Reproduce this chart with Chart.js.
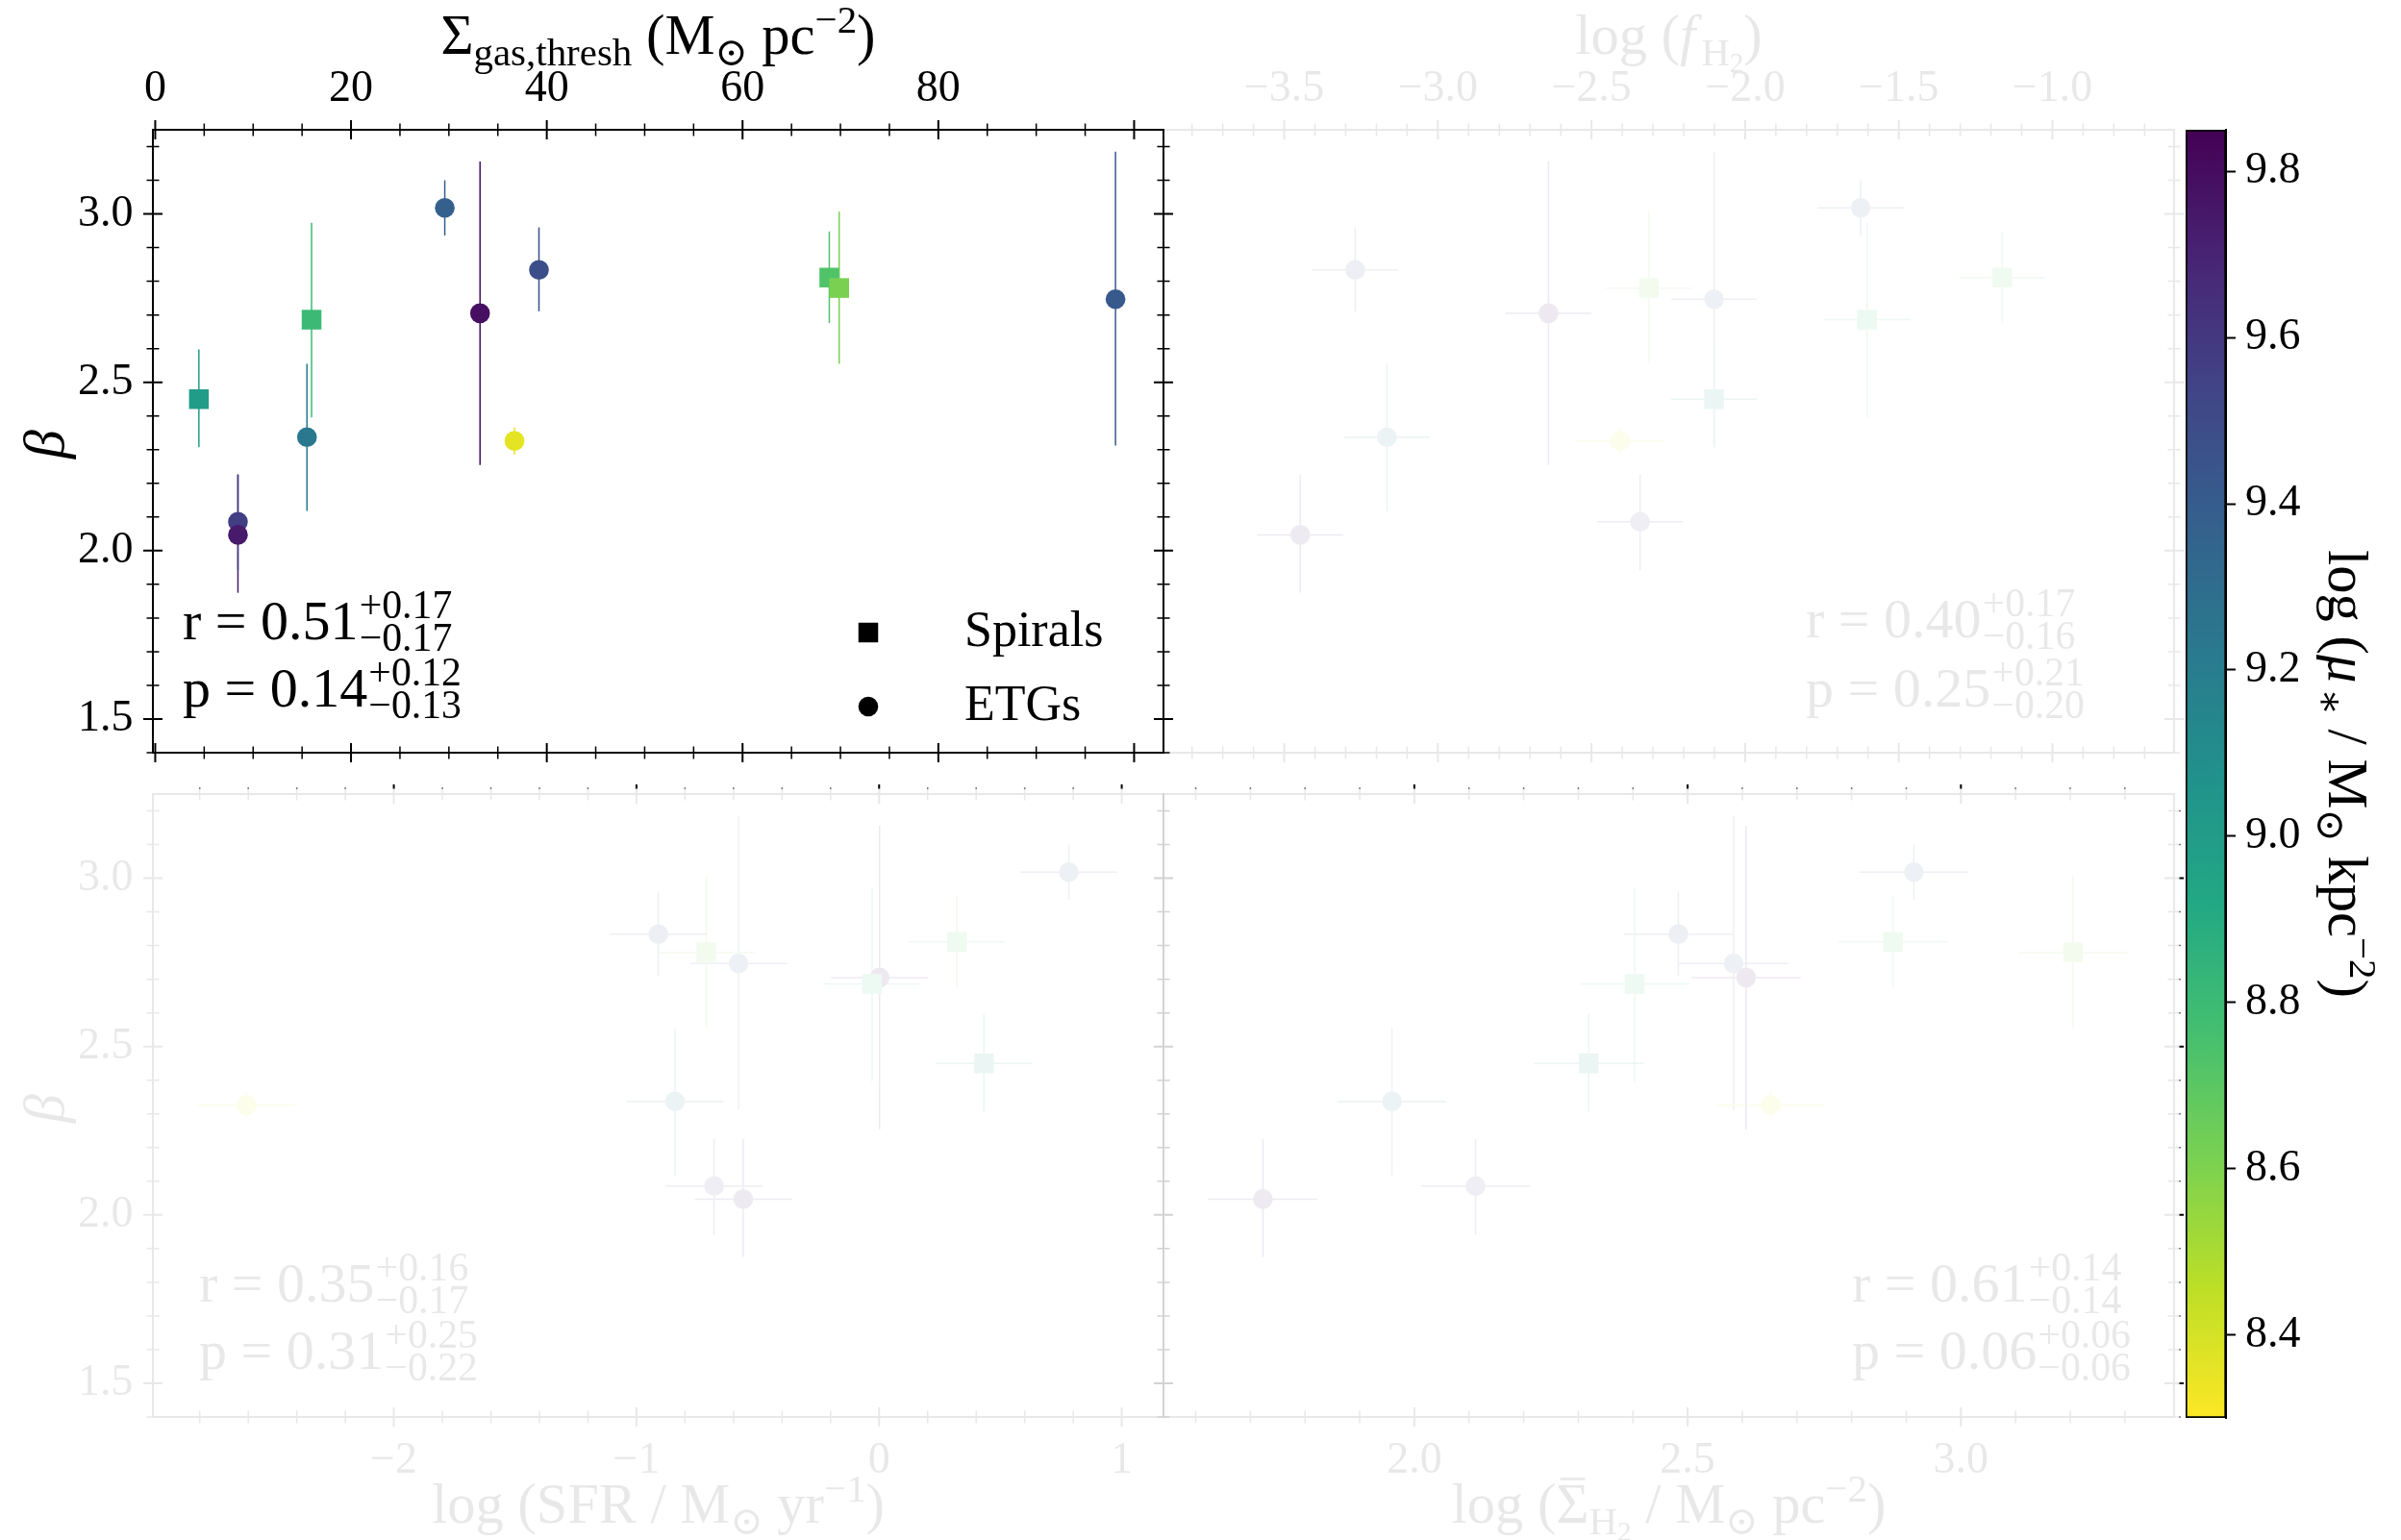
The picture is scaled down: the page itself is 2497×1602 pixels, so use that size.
<!DOCTYPE html>
<html>
<head>
<meta charset="utf-8">
<script src="https://cdn.jsdelivr.net/npm/chart.js@4.4.1/dist/chart.umd.min.js"></script>
<style>
  html, body { margin: 0; padding: 0; background: #ffffff; }
  #wrap { position: relative; width: 2497px; height: 1602px; overflow: hidden; background: #ffffff; }
  #wrap canvas { position: absolute; left: 0; top: 0; }
</style>
</head>
<body>
<div id="wrap">
  <canvas id="cBL" width="2497" height="1602"></canvas>
  <canvas id="cBR" width="2497" height="1602"></canvas>
  <canvas id="cTR" width="2497" height="1602"></canvas>
  <canvas id="cCB" width="2497" height="1602"></canvas>
  <canvas id="cTL" width="2497" height="1602"></canvas>
</div>
<script>
// ------------------------------------------------------------------ data
// one entry per galaxy (12 galaxies)
const galaxyType     = ['spiral','etg','etg','etg','spiral','etg','etg','etg','etg','spiral','spiral','etg'];
const beta           = [2.450, 2.086, 2.047, 2.337, 2.686, 3.018, 2.705, 2.326, 2.834, 2.811, 2.780, 2.747];
const betaErrUp      = [0.148, 0.141, 0.178, 0.218, 0.288, 0.082, 0.451, 0.040, 0.126, 0.137, 0.227, 0.438];
const betaErrDown    = [0.143, 0.144, 0.172, 0.219, 0.290, 0.082, 0.451, 0.040, 0.123, 0.135, 0.225, 0.435];
const logMuStar      = [9.00, 9.57, 9.74, 9.23, 8.80, 9.38, 9.79, 8.36, 9.48, 8.73, 8.61, 9.42];
const sigmaGasThresh = [4.46, 8.45, 8.45, 15.50, 15.97, 29.58, 33.18, 36.70, 39.20, 68.86, 69.87, 98.10];
const logFH2         = [-2.101, -2.342, -3.448, -3.166, -1.603, -1.624, -2.640, -2.407, -3.269, -1.163, -2.313, -2.101];
const logFH2Err      = [0.14, 0.14, 0.14, 0.14, 0.14, 0.14, 0.14, 0.14, 0.14, 0.14, 0.14, 0.14];
const logSFR         = [0.432, -0.680, -0.560, -0.841, -0.029, 0.782, 0.002, -2.607, -0.910, 0.321, -0.712, -0.579];
const logSFRErr      = [0.20, 0.20, 0.20, 0.20, 0.20, 0.20, 0.20, 0.20, 0.20, 0.20, 0.20, 0.20];
const logSigmaH2     = [2.319, 2.112, 1.723, 1.959, 2.403, 2.914, 2.607, 2.652, 2.483, 2.876, 3.205, 2.584];
const logSigmaH2Err  = [0.10, 0.10, 0.10, 0.10, 0.10, 0.10, 0.10, 0.10, 0.10, 0.10, 0.10, 0.10];

// correlation statistics per panel: [TL, TR, BL, BR]
const corrR      = ['0.51', '0.40', '0.35', '0.61'];
const corrRUp    = ['+0.17', '+0.17', '+0.16', '+0.14'];
const corrRDown  = ['\u22120.17', '\u22120.16', '\u22120.17', '\u22120.14'];
const corrP      = ['0.14', '0.25', '0.31', '0.06'];
const corrPUp    = ['+0.12', '+0.21', '+0.25', '+0.06'];
const corrPDown  = ['\u22120.13', '\u22120.20', '\u22120.22', '\u22120.06'];

// axis ranges and ticks
const betaRange      = [1.40, 3.25];
const betaTicks      = [1.5, 2.0, 2.5, 3.0];
const betaTickLabels = ['1.5', '2.0', '2.5', '3.0'];

const sgtRange      = [-0.24, 103.0];
const sgtTicks      = [0, 20, 40, 60, 80, 100];
const sgtTickLabels = ['0', '20', '40', '60', '80', ''];

const fh2Range      = [-3.893, -0.604];
const fh2Ticks      = [-3.5, -3.0, -2.5, -2.0, -1.5, -1.0];
const fh2TickLabels = ['\u22123.5', '\u22123.0', '\u22122.5', '\u22122.0', '\u22121.5', '\u22121.0'];

const sfrRange      = [-2.993, 1.172];
const sfrTicks      = [-2, -1, 0, 1];
const sfrTickLabels = ['\u22122', '\u22121', '0', '1'];

const sh2Range      = [1.541, 3.390];
const sh2Ticks      = [2.0, 2.5, 3.0];
const sh2TickLabels = ['2.0', '2.5', '3.0'];

const cbRange      = [8.30, 9.85];
const cbTicks      = [8.4, 8.6, 8.8, 9.0, 9.2, 9.4, 9.6, 9.8];
const cbTickLabels = ['8.4', '8.6', '8.8', '9.0', '9.2', '9.4', '9.6', '9.8'];

const legendLabels = ['Spirals', 'ETGs'];

// ------------------------------------------------------------------ style / layout
const W = 2497, H = 1602;
const FONT = '"Liberation Serif", "Times New Roman", "DejaVu Serif", serif';
const TICK_SIZE = 46, TITLE_SIZE = 58.5, LEGEND_SIZE = 52, ANNOT_SIZE = 58;
const LABEL_BOX = 120;   // room reserved for tick labels of a labelled axis
const FADE = 0.91;
const AREA = {
  TL: {l: 159,  t: 135, r: 1210, b: 783},
  TR: {l: 1210, t: 135, r: 2261, b: 783},
  BL: {l: 159,  t: 826, r: 1210, b: 1474},
  BR: {l: 1210, t: 826, r: 2261, b: 1474},
  CB: {l: 2273, t: 135, r: 2315, b: 1475}
};
const VIRIDIS = ['#440154','#482475','#414487','#355f8d','#2a788e','#21918c','#22a884','#44bf70','#7ad151','#bddf26','#fde725'];

function hexToRgb(h) { return [parseInt(h.substr(1,2),16), parseInt(h.substr(3,2),16), parseInt(h.substr(5,2),16)]; }
function viridis(t) {
  t = Math.max(0, Math.min(1, t));
  const n = VIRIDIS.length - 1, f = t * n, i = Math.min(n - 1, Math.floor(f)), u = f - i;
  const a = hexToRgb(VIRIDIS[i]), b = hexToRgb(VIRIDIS[i + 1]);
  return 'rgb(' + a.map((c, k) => Math.round(c + (b[k] - c) * u)).join(',') + ')';
}
function cbColor(v) { return viridis((cbRange[1] - v) / (cbRange[1] - cbRange[0])); }
const pointColors = logMuStar.map(cbColor);

function fnt(size, italic) { return (italic ? 'italic ' : '') + size.toFixed(2) + 'px ' + FONT; }

// ------------------------------------------------------------------ rich text (sub/superscripts)
const LEVELS = {base: {k: 1, dy: 0}, sub: {k: 0.7, dy: 0.2}, sub2: {k: 0.5, dy: 0.33}, sup: {k: 0.7, dy: -0.37}};
function drawRich(ctx, segs, size, x, y, opt) {
  opt = opt || {};
  const parts = []; let w = 0;
  for (const s of segs) {
    if (s.stack) {
      const f = size * 0.72;
      ctx.font = fnt(f, false);
      const w1 = ctx.measureText(s.stack[0]).width, w2 = ctx.measureText(s.stack[1]).width;
      parts.push({stack: s.stack, x: w + size * 0.02, f});
      w += Math.max(w1, w2) + size * 0.02;
    } else {
      const lv = LEVELS[s.lvl || 'base'];
      const f = size * lv.k;
      ctx.font = fnt(f, s.it);
      const tw = ctx.measureText(s.t).width;
      parts.push({t: s.t, x: w, f, it: s.it, dy: lv.dy * size, bar: s.bar, tw});
      w += tw + (s.it ? f * 0.1 : 0);
    }
  }
  ctx.save();
  ctx.translate(x, y);
  if (opt.rot) ctx.rotate(opt.rot);
  const x0 = opt.align === 'center' ? -w / 2 : (opt.align === 'right' ? -w : 0);
  ctx.fillStyle = opt.color || '#000';
  ctx.textAlign = 'left';
  ctx.textBaseline = opt.baseline || 'alphabetic';
  for (const p of parts) {
    if (p.stack) {
      ctx.font = fnt(p.f, false);
      ctx.fillText(p.stack[0], x0 + p.x, -0.385 * size);
      ctx.fillText(p.stack[1], x0 + p.x, 0.21 * size);
    } else {
      ctx.font = fnt(p.f, p.it);
      ctx.fillText(p.t, x0 + p.x, p.dy);
      if (p.bar) ctx.fillRect(x0 + p.x + p.tw * 0.12, p.dy - 0.8 * p.f, p.tw * 0.76, Math.max(1.5, 0.045 * p.f));
    }
  }
  ctx.restore();
}

// ------------------------------------------------------------------ plugins
function makeTicksPlugin(specs) {
  return {
    id: 'inoutTicks',
    afterDraw(chart) {
      const {ctx, chartArea: a} = chart;
      ctx.save();
      ctx.strokeStyle = '#000';
      ctx.lineCap = 'butt';
      for (const sp of specs) {
        const s = chart.scales[sp.scale];
        const majors = s.ticks.map(t => t.value);
        const marks = majors.map(v => ({v, major: true}));
        const k0 = Math.ceil(s.min / sp.minor - 1e-6), k1 = Math.floor(s.max / sp.minor + 1e-6);
        for (let k = k0; k <= k1; k++) {
          const v = k * sp.minor;
          if (!majors.some(m => Math.abs(m - v) < sp.minor * 0.01)) marks.push({v, major: false});
        }
        for (const m of marks) {
          const p = s.getPixelForValue(m.v);
          const L = m.major ? 10 : 6.5;
          ctx.lineWidth = m.major ? 2 : 1.5;
          ctx.beginPath();
          for (const side of sp.sides) {
            if (side === 'top')    { ctx.moveTo(p, a.top - L);    ctx.lineTo(p, a.top + L); }
            if (side === 'bottom') { ctx.moveTo(p, a.bottom - L); ctx.lineTo(p, a.bottom + L); }
            if (side === 'left')   { ctx.moveTo(a.left - L, p);   ctx.lineTo(a.left + L, p); }
            if (side === 'right')  { ctx.moveTo(a.right - L, p);  ctx.lineTo(a.right + L, p); }
          }
          ctx.stroke();
        }
      }
      ctx.restore();
    }
  };
}

function makeTextPlugin(itemsFn) {
  return {
    id: 'richText',
    afterDraw(chart) {
      const ctx = chart.ctx, a = chart.chartArea;
      for (const it of itemsFn(a)) {
        if (it.marker) {
          ctx.save();
          ctx.fillStyle = '#000';
          Chart.helpers.drawPoint(ctx, {pointStyle: it.marker, radius: it.radius, rotation: 0, borderWidth: 0}, it.x, it.y);
          ctx.restore();
        } else {
          drawRich(ctx, it.segs, it.size, it.x, it.y, it);
        }
      }
    }
  };
}

function makeFadePlugin(rectFn) {
  return {
    id: 'fade',
    afterDraw(chart) {
      const ctx = chart.ctx, r = rectFn(chart.chartArea);
      ctx.save();
      ctx.globalCompositeOperation = 'destination-out';
      ctx.fillStyle = 'rgba(0,0,0,' + FADE + ')';
      ctx.fillRect(r.x0, r.y0, r.x1 - r.x0, r.y1 - r.y0);
      ctx.restore();
    }
  };
}

// ------------------------------------------------------------------ panel builder
function baseAxis(axis, position, range, size) {
  return {
    type: 'linear', axis, position, min: range[0], max: range[1],
    afterFit: s => { if (s.isHorizontal()) s.height = size; else s.width = size; },
    grid: {display: false, drawTicks: false},
    border: {display: true, color: '#000', width: 2},
    ticks: {display: false}
  };
}
function labelledTicks(padding, labels) {
  return {
    display: true, autoSkip: false, maxRotation: 0, minRotation: 0, padding, color: '#000',
    font: {family: FONT, size: TICK_SIZE, lineHeight: 1},
    callback: (v, i) => labels[i]
  };
}

function makePanel(canvasId, cfg) {
  const A = AREA[cfg.area];
  const datasets = [];
  const idx = type => galaxyType.map((g, i) => g === type ? i : -1).filter(i => i >= 0);
  const sp = idx('spiral'), et = idx('etg');
  datasets.push({
    type: 'scatter', label: legendLabels[0], order: 0,
    data: sp.map(i => ({x: cfg.xVals[i], y: beta[i]})),
    pointStyle: 'rect', pointRadius: 14.5, pointHoverRadius: 14.5,
    pointBackgroundColor: sp.map(i => pointColors[i]), pointBorderWidth: 0
  });
  datasets.push({
    type: 'scatter', label: legendLabels[1], order: 0,
    data: et.map(i => ({x: cfg.xVals[i], y: beta[i]})),
    pointStyle: 'circle', pointRadius: 10.3, pointHoverRadius: 10.3,
    pointBackgroundColor: et.map(i => pointColors[i]), pointBorderWidth: 0
  });
  const bar = (pts, col) => ({
    type: 'line', order: 1, data: pts, showLine: true, borderColor: col, borderWidth: 1.5,
    pointRadius: 0, pointHoverRadius: 0, tension: 0, fill: false, borderCapStyle: 'butt'
  });
  for (let i = 0; i < beta.length; i++) {
    datasets.push(bar([{x: cfg.xVals[i], y: beta[i] - betaErrDown[i]}, {x: cfg.xVals[i], y: beta[i] + betaErrUp[i]}], pointColors[i]));
    if (cfg.xErr) datasets.push(bar([{x: cfg.xVals[i] - cfg.xErr[i], y: beta[i]}, {x: cfg.xVals[i] + cfg.xErr[i], y: beta[i]}], pointColors[i]));
  }

  const xTop = cfg.xSide === 'top';
  const x = baseAxis('x', cfg.xSide, cfg.xRange, LABEL_BOX);
  x.afterBuildTicks = s => { s.ticks = cfg.xTicks.map(v => ({value: v})); };
  x.ticks = labelledTicks(xTop ? 19.5 : 23, cfg.xLabels);
  const x2 = baseAxis('x', xTop ? 'bottom' : 'top', cfg.xRange, 0);
  const yBox = cfg.yLabels ? LABEL_BOX : 0;
  const y = baseAxis('y', 'left', betaRange, yBox);
  y.afterBuildTicks = s => { s.ticks = betaTicks.map(v => ({value: v})); };
  if (cfg.yLabels) y.ticks = labelledTicks(20.5, betaTickLabels);
  const y2 = baseAxis('y', 'right', betaRange, 0);

  const pad = {
    left: A.l - yBox,
    right: W - A.r,
    top: A.t - (xTop ? LABEL_BOX : 0),
    bottom: H - A.b - (xTop ? 0 : LABEL_BOX)
  };

  const plugins = [
    makeTicksPlugin([{scale: 'x', sides: ['top', 'bottom'], minor: cfg.xMinor}, {scale: 'y', sides: ['left', 'right'], minor: 0.1}]),
    makeTextPlugin(cfg.texts)
  ];
  if (cfg.fade) plugins.push(makeFadePlugin(cfg.fade));

  return new Chart(document.getElementById(canvasId), {
    type: 'scatter',
    data: {datasets},
    options: {
      responsive: false, animation: false, devicePixelRatio: 1, events: [],
      layout: {autoPadding: false, padding: pad},
      plugins: {legend: {display: false}, tooltip: {enabled: false}},
      scales: {x, x2, y, y2}
    },
    plugins
  });
}

// ------------------------------------------------------------------ text content
const cx = a => (a.left + a.right) / 2, cy = a => (a.top + a.bottom) / 2;
const betaTitle = a => ({segs: [{t: '\u03B2', it: true}], size: 60, x: a.left - 93, y: cy(a), align: 'center', rot: -Math.PI / 2});
const statItems = (k, a, dx, dy1, dy2) => [
  {segs: [{t: 'r = ' + corrR[k]}, {stack: [corrRUp[k], corrRDown[k]]}], size: ANNOT_SIZE, x: a.left + dx, y: a.top + dy1},
  {segs: [{t: 'p = ' + corrP[k]}, {stack: [corrPUp[k], corrPDown[k]]}], size: ANNOT_SIZE, x: a.left + dx, y: a.top + dy2}
];
const SUN = '\u2299', MINUS = '\u2212';

// bottom-left: log SFR (faded)
makePanel('cBL', {
  area: 'BL', xVals: logSFR, xErr: logSFRErr, xRange: sfrRange, xTicks: sfrTicks, xLabels: sfrTickLabels,
  xMinor: 0.2, xSide: 'bottom', yLabels: true,
  texts: a => [
    {segs: [{t: 'log (SFR / M'}, {t: SUN, lvl: 'sub'}, {t: ' yr'}, {t: MINUS + '1', lvl: 'sup'}, {t: ')'}],
     size: TITLE_SIZE, x: cx(a), y: a.bottom + 110, align: 'center'},
    betaTitle(a),
    ...statItems(2, a, 48, 528, 598)
  ],
  fade: a => ({x0: 0, y0: a.top - 5.5, x1: W, y1: H})
});

// bottom-right: log mean Sigma_H2 (faded)
makePanel('cBR', {
  area: 'BR', xVals: logSigmaH2, xErr: logSigmaH2Err, xRange: sh2Range, xTicks: sh2Ticks, xLabels: sh2TickLabels,
  xMinor: 0.1, xSide: 'bottom', yLabels: false,
  texts: a => [
    {segs: [{t: 'log ('}, {t: '\u03A3', bar: true}, {t: 'H', lvl: 'sub'}, {t: '2', lvl: 'sub2'}, {t: ' / M'}, {t: SUN, lvl: 'sub'}, {t: ' pc'}, {t: MINUS + '2', lvl: 'sup'}, {t: ')'}],
     size: TITLE_SIZE, x: cx(a), y: a.bottom + 110, align: 'center'},
    ...statItems(3, a, 716, 528, 598)
  ],
  fade: a => ({x0: a.left - 20, y0: a.top - 5.5, x1: a.right + 5.5, y1: H})
});

// top-right: log f_H2 (faded)
makePanel('cTR', {
  area: 'TR', xVals: logFH2, xErr: logFH2Err, xRange: fh2Range, xTicks: fh2Ticks, xLabels: fh2TickLabels,
  xMinor: 0.1, xSide: 'top', yLabels: false,
  texts: a => [
    {segs: [{t: 'log ('}, {t: 'f', it: true}, {t: 'H', lvl: 'sub'}, {t: '2', lvl: 'sub2'}, {t: ')'}],
     size: TITLE_SIZE, x: cx(a), y: a.top - 79, align: 'center'},
    ...statItems(1, a, 668, 528, 600)
  ],
  fade: a => ({x0: 0, y0: 0, x1: W, y1: H})
});

// colour bar
new Chart(document.getElementById('cCB'), {
  type: 'bar',
  data: {
    labels: [''],
    datasets: [{
      data: [cbRange],
      backgroundColor: c => {
        const ch = c.chart, ys = ch.scales.y;
        if (!ch.chartArea || !ys) return '#21918c';
        const g = ch.ctx.createLinearGradient(0, ys.getPixelForValue(cbRange[0]), 0, ys.getPixelForValue(cbRange[1]));
        const n = VIRIDIS.length - 1;
        VIRIDIS.forEach((col, k) => g.addColorStop(k / n, VIRIDIS[n - k]));
        return g;
      },
      borderColor: '#000', borderWidth: 2, borderSkipped: false,
      barPercentage: 1, categoryPercentage: 1
    }]
  },
  options: {
    responsive: false, animation: false, devicePixelRatio: 1, events: [],
    layout: {autoPadding: false, padding: {left: AREA.CB.l, top: AREA.CB.t, right: W - AREA.CB.r - LABEL_BOX, bottom: H - AREA.CB.b}},
    plugins: {legend: {display: false}, tooltip: {enabled: false}},
    scales: {
      x: {display: false},
      y: {
        type: 'linear', position: 'right', min: cbRange[0], max: cbRange[1],
        afterFit: s => { s.width = LABEL_BOX; },
        afterBuildTicks: s => { s.ticks = cbTicks.map(v => ({value: v})); },
        ticks: {padding: 10, color: '#000', font: {family: FONT, size: TICK_SIZE, lineHeight: 1}, callback: (v, i) => cbTickLabels[i]},
        grid: {display: true, drawOnChartArea: false, drawTicks: true, tickLength: 10, tickWidth: 2, tickColor: '#000', color: '#000'},
        border: {display: true, color: '#000', width: 2}
      }
    }
  },
  plugins: [makeTextPlugin(a => [
    {segs: [{t: 'log ('}, {t: '\u03BC', it: true}, {t: '\u2217', lvl: 'sub'}, {t: ' / M'}, {t: SUN, lvl: 'sub'}, {t: ' kpc'}, {t: MINUS + '2', lvl: 'sup'}, {t: ')'}],
     size: TITLE_SIZE, x: a.right + 107, y: cy(a), align: 'center', rot: Math.PI / 2}
  ])]
});

// top-left: Sigma_gas,thresh (highlighted panel)
makePanel('cTL', {
  area: 'TL', xVals: sigmaGasThresh, xErr: null, xRange: sgtRange, xTicks: sgtTicks, xLabels: sgtTickLabels,
  xMinor: 5, xSide: 'top', yLabels: true,
  texts: a => [
    {segs: [{t: '\u03A3'}, {t: 'gas,thresh', lvl: 'sub'}, {t: ' (M'}, {t: SUN, lvl: 'sub'}, {t: ' pc'}, {t: MINUS + '2', lvl: 'sup'}, {t: ')'}],
     size: TITLE_SIZE, x: cx(a), y: a.top - 79, align: 'center'},
    betaTitle(a),
    ...statItems(0, a, 31, 530, 600),
    {marker: 'rect', radius: 14.5, x: a.left + 744, y: a.top + 523},
    {segs: [{t: legendLabels[0]}], size: LEGEND_SIZE, x: a.left + 844, y: a.top + 523, baseline: 'middle'},
    {marker: 'circle', radius: 10.3, x: a.left + 744, y: a.top + 600},
    {segs: [{t: legendLabels[1]}], size: LEGEND_SIZE, x: a.left + 844, y: a.top + 600, baseline: 'middle'}
  ]
});
</script>
</body>
</html>
